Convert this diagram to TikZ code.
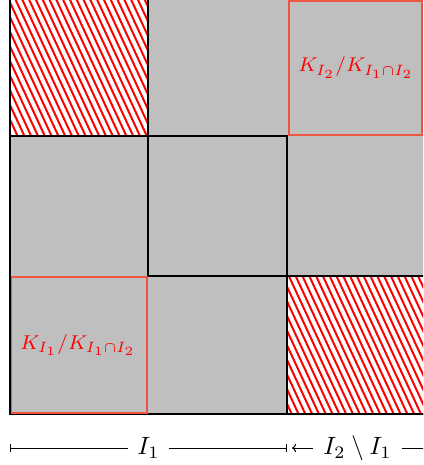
\documentclass[tikz,border=0pt]{standalone}
\usetikzlibrary{arrows.meta}
\definecolor{boxred}{RGB}{238,85,65}
\begin{document}
\begin{tikzpicture}[x=0.4pt,y=-0.4pt,
  blk/.style={draw=black,line width=0.45pt},
  redbox/.style={draw=boxred,line width=0.6pt},
  lbl/.style={text=red,font=\footnotesize},
  hatchline/.style={draw=red,line width=0.8pt},
  dimlbl/.style={fill=white,inner xsep=3.5pt,inner ysep=1pt},
  dimline/.style={line width=0.4pt}]
\useasboundingbox (0,0) rectangle (423,465);
\begin{scope}
\clip (0,0) rectangle (423,465);
\fill[gray!50] (10,0) rectangle (440,414);
\fill[white] (10,0) rectangle (148,136);
\fill[white] (287,276) rectangle (440,414);
\begin{scope}
\clip (10,0) rectangle (148,136);
\foreach \x in {-80,-73.2,...,160} \draw[hatchline] (\x,-1) -- ++(65,140);
\end{scope}
\begin{scope}
\clip (287,276) rectangle (440,414);
\foreach \x in {200,206.8,...,440} \draw[hatchline] (\x,275) -- ++(65,140);
\end{scope}
\draw[blk] (10,-5) -- (10,414) -- (440,414);
\draw[blk] (10,136) -- (148,136) -- (148,-5);
\draw[blk] (148,136) rectangle (287,276);
\draw[blk] (287,276) rectangle (440,414);
\draw[redbox] (11.5,277) rectangle (147,413);
\draw[redbox] (289,0.8) rectangle (422,135);
\node[lbl] (k1) at (78,345) {$K_{I_1}/K_{I_1\cap I_2}$};
\node[lbl] (k2) at (356,67.5) {$K_{I_2}/K_{I_1\cap I_2}$};
\coordinate (a) at (10,448);
\coordinate (b) at (287,448);
\coordinate (c) at (292,448);
\coordinate (d) at (440,448);
\node[dimlbl] (l1) at (148.5,448) {$I_1$};
\node[dimlbl,inner xsep=4pt] (l2) at (357.5,448) {$I_2\setminus I_1$};
\draw[dimline,{Bar[width=3pt]}-] (a) -- (l1);
\draw[dimline,-{Bar[width=3pt]}] (l1) -- (b);
\draw[dimline,{To[length=1.6pt,width=3.2pt]}-] (c) -- (l2);
\draw[dimline] (l2) -- (d);
\end{scope}
\end{tikzpicture}
\end{document}
